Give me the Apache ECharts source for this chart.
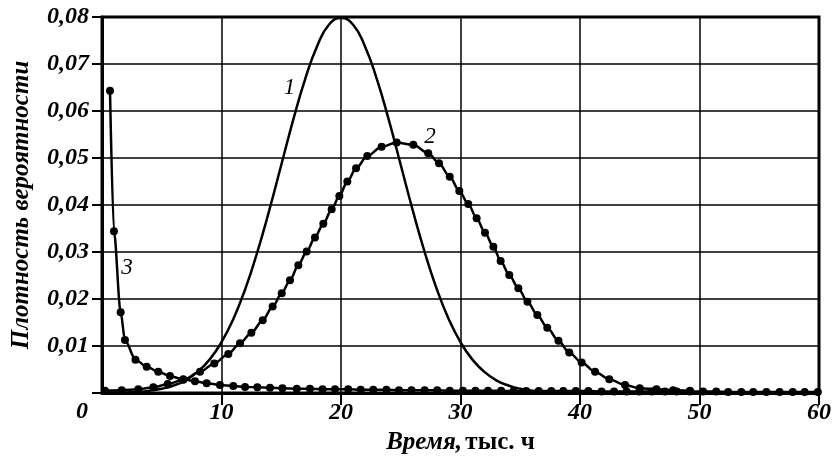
<!DOCTYPE html>
<html>
<head>
<meta charset="utf-8">
<script src="https://cdn.jsdelivr.net/npm/echarts@6/dist/echarts.min.js"></script>
<style>
  html, body { margin: 0; padding: 0; background: #fff; }
  #chart { width: 835px; height: 464px; }
</style>
</head>
<body>
<div id="chart"></div>
<script>
// curve 1 - smooth bell, no markers
const curve1 = [
  [0, 0.0000], [1, 0.0001], [2, 0.0001], [3, 0.0002], [4, 0.0005], [5, 0.0009],
  [6, 0.0016], [7, 0.0027], [8, 0.0045], [9, 0.0071], [10, 0.0108], [11, 0.0158],
  [12, 0.0222], [13, 0.0300], [14, 0.0389], [15, 0.0485], [16, 0.0581], [17, 0.0668],
  [18, 0.0738], [19, 0.0784], [20, 0.0798], [21, 0.0784], [22, 0.0738], [23, 0.0668],
  [24, 0.0581], [25, 0.0485], [26, 0.0389], [27, 0.0300], [28, 0.0222], [29, 0.0158],
  [30, 0.0108], [31, 0.0071], [32, 0.0045], [33, 0.0027], [34, 0.0016], [35, 0.0009],
  [36, 0.0005], [37, 0.0002], [38, 0.0001], [40, 0.0000]
]

// curve 2 - markers
const curve2 = [
  [0.25, 0.0005], [1.65, 0.0006], [3.04, 0.0008], [4.3, 0.0012], [5.5, 0.0019],
  [6.8, 0.0028], [8.2, 0.0045], [9.4, 0.0063], [10.57, 0.0083], [11.55, 0.0106],
  [12.5, 0.0128], [13.45, 0.0155], [14.28, 0.0184], [15.04, 0.0212], [15.73, 0.0240],
  [16.43, 0.0272], [17.13, 0.0301], [17.82, 0.0331], [18.52, 0.0360], [19.22, 0.0391],
  [19.86, 0.0419], [20.53, 0.0450], [21.26, 0.0478], [22.2, 0.0504], [23.4, 0.0524],
  [24.66, 0.0533], [26.05, 0.0528], [27.3, 0.0510], [28.2, 0.0489], [29.1, 0.0460],
  [29.9, 0.0430], [30.65, 0.0402], [31.35, 0.0372], [32.05, 0.0341], [32.75, 0.0311],
  [33.36, 0.0281], [34.08, 0.0251], [34.84, 0.0223], [35.6, 0.0194], [36.43, 0.0166],
  [37.26, 0.0139], [38.2, 0.0111], [39.1, 0.0086], [40.14, 0.0065], [41.26, 0.0045],
  [42.45, 0.0029], [43.77, 0.0017], [45.0, 0.0010], [46.4, 0.0008], [47.8, 0.0006],
  [49.2, 0.0005]
]

// curve 3 - markers, steep decay then long flat tail
const curve3 = [
  [0.67, 0.0643], [1.0, 0.0344], [1.56, 0.0172], [1.92, 0.0113], [2.8, 0.0071],
  [3.74, 0.0056], [4.71, 0.0045], [5.69, 0.0036], [6.8, 0.0029], [7.78, 0.0025],
  [8.76, 0.0021], [9.87, 0.0017], [10.99, 0.0015], [11.97, 0.0013], [13.0, 0.0012],
  [14.06, 0.0011], [15.1, 0.0010], [16.3, 0.0009], [17.4, 0.0009], [18.45, 0.0008],
  [19.5, 0.0008], [20.6, 0.0008], [21.65, 0.0007], [22.7, 0.0007], [23.8, 0.0007],
  [24.85, 0.0006], [25.9, 0.0006], [27.0, 0.0006], [28.05, 0.0006], [29.1, 0.0005],
  [30.2, 0.0005], [31.25, 0.0005], [32.3, 0.0005], [33.4, 0.0005], [34.45, 0.0004],
  [35.5, 0.0004], [36.55, 0.0004], [37.6, 0.0004], [38.6, 0.0004], [39.65, 0.0004],
  [40.7, 0.0004], [41.8, 0.0003], [42.85, 0.0003], [43.9, 0.0003], [44.96, 0.0003],
  [46.0, 0.0003], [47.1, 0.0003], [48.1, 0.0003], [49.2, 0.0003], [50.3, 0.0003],
  [51.4, 0.0003], [52.4, 0.0002], [53.5, 0.0002], [54.5, 0.0002], [55.6, 0.0002],
  [56.7, 0.0002], [57.8, 0.0002], [58.8, 0.0002], [59.9, 0.0002]
]

const curveLabels = [
  { name: '1', coord: [15.7, 0.0649] },
  { name: '2', coord: [27.45, 0.0545] },
  { name: '3', coord: [2.1, 0.0266] }
]

const font = '"Liberation Serif", "Times New Roman", serif'

const chart = echarts.init(document.getElementById('chart'))

const markerSeries = (name, data, extra) => Object.assign({
  name,
  type: 'line',
  data,
  smooth: 0.3,
  smoothMonotone: 'x',
  symbol: 'circle',
  symbolSize: 8,
  lineStyle: { color: '#000', width: 2.5 },
  itemStyle: { color: '#000' },
  z: 3
}, extra)

chart.setOption({
  animation: false,
  backgroundColor: '#fff',
  grid: {
    left: 102, right: 16, top: 17, bottom: 71,
    show: true, borderColor: '#000', borderWidth: 3
  },
  xAxis: {
    type: 'value',
    min: 0, max: 60, interval: 10,
    name: '{a|Время,} {b|тыс. ч}',
    nameLocation: 'middle',
    nameGap: 36,
    nameTextStyle: {
      rich: {
        a: { fontFamily: font, fontSize: 25, fontWeight: 'bold', fontStyle: 'italic', color: '#000' },
        b: { fontFamily: font, fontSize: 25, fontWeight: 'bold', color: '#000' }
      }
    },
    axisLine: { show: true, lineStyle: { color: '#000', width: 3 } },
    axisTick: { show: true, length: 12, lineStyle: { color: '#000', width: 2 } },
    axisLabel: {
      showMinLabel: false,
      margin: 8,
      fontFamily: font, fontSize: 24, fontWeight: 'bold', fontStyle: 'italic', color: '#000'
    },
    splitLine: { show: true, lineStyle: { color: '#000', width: 1.5 } }
  },
  yAxis: {
    type: 'value',
    min: 0, max: 0.08, interval: 0.01,
    name: 'Плотность вероятности',
    nameLocation: 'middle',
    nameGap: 68,
    nameTextStyle: { fontFamily: font, fontSize: 25, fontWeight: 'bold', fontStyle: 'italic', color: '#000' },
    axisLine: { show: true, lineStyle: { color: '#000', width: 3 } },
    axisTick: { show: true, length: 10, lineStyle: { color: '#000', width: 2 } },
    axisLabel: {
      margin: 13,
      formatter: v => v === 0 ? '' : v.toFixed(2).replace('.', ','),
      fontFamily: font, fontSize: 24, fontWeight: 'bold', fontStyle: 'italic', color: '#000'
    },
    splitLine: { show: true, lineStyle: { color: '#000', width: 1.5 } }
  },
  graphic: [{
    type: 'text',
    left: 76, top: 400,
    style: { text: '0', fontFamily: font, fontSize: 24, fontWeight: 'bold', fontStyle: 'italic', fill: '#000' }
  }],
  series: [
    {
      name: '1',
      type: 'line',
      data: curve1,
      smooth: true,
      showSymbol: false,
      lineStyle: { color: '#000', width: 2.5 },
      z: 2,
      markPoint: {
        symbol: 'circle',
        symbolSize: 1,
        itemStyle: { color: 'rgba(0,0,0,0)' },
        label: {
          show: true,
          formatter: '{b}',
          fontFamily: font, fontSize: 23, fontStyle: 'italic', color: '#000'
        },
        data: curveLabels
      }
    },
    markerSeries('2', curve2),
    markerSeries('3', curve3)
  ]
})
</script>
</body>
</html>
